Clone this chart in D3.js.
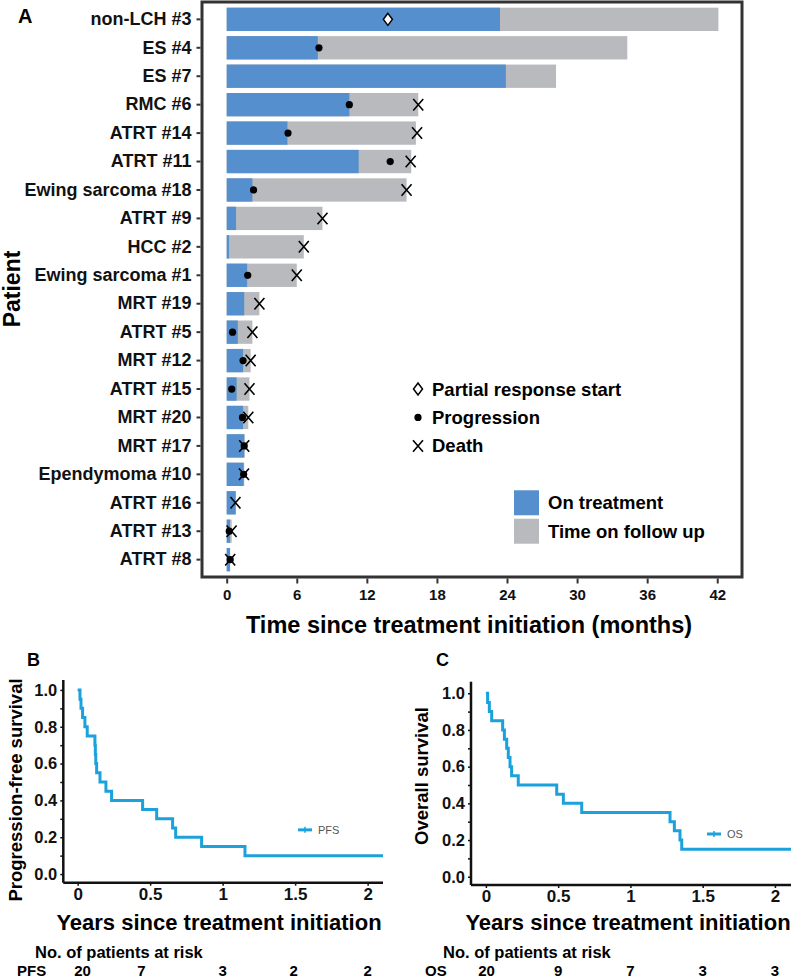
<!DOCTYPE html>
<html>
<head>
<meta charset="utf-8">
<script src="https://cdn.jsdelivr.net/npm/d3@7"></script>
<style>
  body { margin: 0; background: #fff; }
  svg { display: block; font-family: 'Liberation Sans', Arial, sans-serif; }
  .b { font-weight: bold; }
</style>
</head>
<body>
<div id="chart"></div>
<script>
// ---- Panel A: swimmer plot (months) ----
var patients = ['non-LCH #3', 'ES #4', 'ES #7', 'RMC #6', 'ATRT #14', 'ATRT #11',
  'Ewing sarcoma #18', 'ATRT #9', 'HCC #2', 'Ewing sarcoma #1', 'MRT #19', 'ATRT #5',
  'MRT #12', 'ATRT #15', 'MRT #20', 'MRT #17', 'Ependymoma #10', 'ATRT #16', 'ATRT #13', 'ATRT #8'];
var onTreatment = [23.4, 7.8, 23.9, 10.5, 5.2, 11.3, 2.2, 0.8, 0.2, 1.75, 1.5, 0.95,
  1.4, 0.85, 1.4, 1.5, 1.45, 0.77, 0.28, 0.28];
var totalTime = [42.1, 34.3, 28.2, 16.4, 16.2, 15.8, 15.4, 8.2, 6.6, 6.0, 2.8, 2.2,
  2.05, 1.95, 1.85, 1.55, 1.5, 0.77, 0.43, 0.3];
var partialResponse = [13.8, null, null, null, null, null, null, null, null, null, null, null,
  null, null, null, null, null, null, null, null];
var progression = [null, 7.9, null, 10.5, 5.25, 14.0, 2.3, null, null, 1.8, null, 0.5,
  1.4, 0.43, 1.35, 1.5, 1.45, null, 0.22, 0.3];
var death = [null, null, null, 16.4, 16.3, 15.75, 15.4, 8.2, 6.6, 6.0, 2.8, 2.2,
  2.05, 1.95, 1.85, 1.5, 1.48, 0.75, 0.42, 0.3];
var monthTicks = [0, 6, 12, 18, 24, 30, 36, 42];

// ---- Panels B/C: Kaplan-Meier (years) ----
var pfsTimes = [0, 0.016, 0.023, 0.034, 0.05, 0.066, 0.119, 0.122, 0.125, 0.131, 0.154,
  0.195, 0.234, 0.448, 0.545, 0.655, 0.676, 0.855, 1.154];
var pfsSurv = [1, 0.95, 0.9, 0.85, 0.8, 0.75, 0.7, 0.65, 0.6, 0.55, 0.5,
  0.45, 0.4, 0.35, 0.3, 0.25, 0.2, 0.15, 0.1];
var osTimes = [0, 0.012, 0.024, 0.04, 0.116, 0.128, 0.144, 0.155, 0.167, 0.178, 0.224,
  0.49, 0.536, 0.663, 1.274, 1.304, 1.343, 1.355];
var osSurv = [1, 0.95, 0.9, 0.85, 0.8, 0.75, 0.7, 0.65, 0.6, 0.55, 0.5,
  0.45, 0.4, 0.35, 0.3, 0.25, 0.2, 0.15];
var yearTicks = [0, 0.5, 1, 1.5, 2];
var pfsRiskTimes = [0.034, 0.44, 1.0, 1.49, 2.0];
var pfsRisk = [20, 7, 3, 2, 2];
var osRiskTimes = [0.005, 0.5, 1.0, 1.5, 2.0];
var osRisk = [20, 9, 7, 3, 3];

var blue = '#558fcd';
var grey = '#b8babd';
var kmBlue = '#1ba1dc';

var svg = d3.select('#chart').append('svg')
  .attr('width', 791)
  .attr('height', 979);

// ===== Panel A =====
var frame = {left: 202, right: 742, top: 2, bottom: 577};
var x = d3.scaleLinear().domain([-2.115, 44.12]).range([frame.left, frame.right]);
var y = d3.scaleBand().domain(patients).range([frame.top, frame.bottom])
  .paddingInner(0.18).paddingOuter(0.2);

var a = svg.append('g');

// follow-up (grey) under treatment (blue)
a.selectAll('.fu').data(patients).enter().append('rect')
  .attr('x', x(0))
  .attr('y', function(d) { return y(d); })
  .attr('width', function(d, i) { return x(totalTime[i]) - x(0); })
  .attr('height', y.bandwidth())
  .attr('fill', grey);

a.selectAll('.tx').data(patients).enter().append('rect')
  .attr('x', x(0))
  .attr('y', function(d) { return y(d); })
  .attr('width', function(d, i) { return x(onTreatment[i]) - x(0); })
  .attr('height', y.bandwidth())
  .attr('fill', blue);

function mid(d) { return y(d) + y.bandwidth() / 2; }

// progression dots
a.selectAll('.prog').data(patients.filter(function(d, i) { return progression[i] != null; }))
  .enter().append('circle')
  .attr('cx', function(d) { return x(progression[patients.indexOf(d)]); })
  .attr('cy', mid)
  .attr('r', 3.6)
  .attr('fill', '#000');

// death crosses
function cross(sel, cx, cy, s) {
  sel.append('path')
    .attr('d', 'M' + (cx - s) + ',' + (cy - s * 1.15) + 'L' + (cx + s) + ',' + (cy + s * 1.15) +
      'M' + (cx - s) + ',' + (cy + s * 1.15) + 'L' + (cx + s) + ',' + (cy - s * 1.15))
    .attr('stroke', '#000')
    .attr('stroke-width', 1.6)
    .attr('fill', 'none');
}
patients.forEach(function(d, i) {
  if (death[i] != null) cross(a, x(death[i]), mid(d), 5);
});

// partial response diamonds
function diamond(sel, cx, cy) {
  sel.append('path')
    .attr('d', 'M' + cx + ',' + (cy - 6) + 'L' + (cx + 4.5) + ',' + cy + 'L' + cx + ',' + (cy + 6) +
      'L' + (cx - 4.5) + ',' + cy + 'Z')
    .attr('fill', '#fff')
    .attr('stroke', '#000')
    .attr('stroke-width', 1.5);
}
patients.forEach(function(d, i) {
  if (partialResponse[i] != null) diamond(a, x(partialResponse[i]), mid(d));
});

// frame
a.append('rect')
  .attr('x', frame.left).attr('y', frame.top)
  .attr('width', frame.right - frame.left).attr('height', frame.bottom - frame.top)
  .attr('fill', 'none').attr('stroke', '#333').attr('stroke-width', 3);

// axes
var yAxisA = a.append('g')
  .attr('transform', 'translate(' + (frame.left - 1.5) + ',0)')
  .call(d3.axisLeft(y).tickSize(4).tickPadding(5));
yAxisA.select('.domain').remove();
yAxisA.selectAll('line').attr('stroke', '#333').attr('stroke-width', 2);
yAxisA.selectAll('text').attr('class', 'b').attr('font-size', 18).attr('fill', '#111')
  .attr('font-family', null);

var xAxisA = a.append('g')
  .attr('transform', 'translate(0,' + (frame.bottom + 1.5) + ')')
  .call(d3.axisBottom(x).tickValues(monthTicks).tickSize(5).tickPadding(6));
xAxisA.select('.domain').remove();
xAxisA.selectAll('line').attr('stroke', '#333').attr('stroke-width', 2);
xAxisA.selectAll('text').attr('class', 'b').attr('font-size', 15).attr('fill', '#111')
  .attr('font-family', null);

a.append('text').attr('class', 'b')
  .attr('x', 469).attr('y', 633).attr('text-anchor', 'middle')
  .attr('font-size', 23.5).text('Time since treatment initiation (months)');

a.append('text').attr('class', 'b')
  .attr('transform', 'translate(19.5,289) rotate(-90)').attr('text-anchor', 'middle')
  .attr('font-size', 23).text('Patient');

a.append('text').attr('class', 'b')
  .attr('x', 18).attr('y', 23).attr('font-size', 20).text('A');

// legend A
var lg = a.append('g');
var ly = [mid('ATRT #15'), mid('MRT #20'), mid('MRT #17')];
diamond(lg, 418, ly[0]);
lg.append('circle').attr('cx', 418).attr('cy', ly[1]).attr('r', 3.6).attr('fill', '#000');
cross(lg, 418, ly[2], 5);
['Partial response start', 'Progression', 'Death'].forEach(function(t, i) {
  lg.append('text').attr('class', 'b')
    .attr('x', 432).attr('y', ly[i]).attr('dy', '0.35em')
    .attr('font-size', 18.5).text(t);
});
var boxY = [mid('ATRT #16'), mid('ATRT #13')];
[[blue, 'On treatment'], [grey, 'Time on follow up']].forEach(function(e, i) {
  lg.append('rect').attr('x', 514).attr('y', boxY[i] - 12.5)
    .attr('width', 25).attr('height', 25).attr('fill', e[0]);
  lg.append('text').attr('class', 'b')
    .attr('x', 548).attr('y', boxY[i]).attr('dy', '0.35em')
    .attr('font-size', 18.5).text(e[1]);
});

// ===== Panels B and C =====
function kmPanel(opt) {
  var g = svg.append('g');
  var kx = d3.scaleLinear().domain(opt.xDomain).range([opt.x0, opt.x1]);
  var ky = d3.scaleLinear().domain(opt.yDomain).range([opt.yBottom, opt.yTop]);

  var pts = opt.times.map(function(t, i) { return [t, opt.surv[i]]; });
  pts.push([opt.xDomain[1], opt.surv[opt.surv.length - 1]]);
  var line = d3.line()
    .x(function(d) { return kx(d[0]); })
    .y(function(d) { return ky(d[1]); })
    .curve(d3.curveStepAfter);
  g.append('path').datum(pts)
    .attr('d', line)
    .attr('fill', 'none')
    .attr('stroke', kmBlue)
    .attr('stroke-width', 3);

  // y axis with minor ticks every 0.1
  var ya = g.append('g').attr('transform', 'translate(' + opt.x0 + ',0)')
    .call(d3.axisLeft(ky).tickValues(d3.range(0, 1.01, 0.1)).tickSize(3).tickPadding(3)
      .tickFormat(function(d) {
        var r = Math.round(d * 10);
        return r % 2 === 0 ? d3.format('.1f')(d) : '';
      }));
  ya.select('.domain').attr('d', 'M0,' + opt.yTop + 'V' + opt.yBottom)
    .attr('stroke', '#111').attr('stroke-width', 2.5);
  ya.selectAll('line').attr('stroke', '#111').attr('stroke-width', 1.5);
  ya.selectAll('text').attr('class', 'b').attr('font-size', 16.5).attr('fill', '#111')
    .attr('font-family', null);

  var xa = g.append('g').attr('transform', 'translate(0,' + opt.yBottom + ')')
    .call(d3.axisBottom(kx).tickValues(yearTicks).tickSize(3).tickPadding(2)
      .tickFormat(d3.format('')));
  xa.select('.domain').attr('d', 'M' + opt.x0 + ',0H' + opt.x1)
    .attr('stroke', '#111').attr('stroke-width', 2.5);
  xa.selectAll('line').attr('stroke', '#111').attr('stroke-width', 1.5);
  xa.selectAll('text').attr('class', 'b').attr('font-size', 17).attr('fill', '#111')
    .attr('font-family', null);

  // legend
  var lx = kx(opt.legendAt[0]), lyy = ky(opt.legendAt[1]);
  g.append('line').attr('x1', lx).attr('x2', lx + 14).attr('y1', lyy).attr('y2', lyy)
    .attr('stroke', kmBlue).attr('stroke-width', 3);
  g.append('line').attr('x1', lx + 7).attr('x2', lx + 7).attr('y1', lyy - 3).attr('y2', lyy + 3)
    .attr('stroke', kmBlue).attr('stroke-width', 1.5);
  g.append('text').attr('x', lx + 20).attr('y', lyy).attr('dy', '0.35em')
    .attr('font-size', 11).attr('fill', '#555').text(opt.name);

  // titles
  g.append('text').attr('class', 'b')
    .attr('transform', 'translate(' + opt.yTitleX + ',' + opt.yTitleY + ') rotate(-90)')
    .attr('text-anchor', 'middle').attr('font-size', 18.5).text(opt.yTitle);
  g.append('text').attr('class', 'b')
    .attr('x', opt.xTitleX).attr('y', 930).attr('text-anchor', 'middle')
    .attr('font-size', 22).text('Years since treatment initiation');
  g.append('text').attr('class', 'b')
    .attr('x', opt.labelX).attr('y', 666).attr('font-size', 18).text(opt.label);

  // number at risk
  g.append('text').attr('class', 'b')
    .attr('x', opt.riskTitleX).attr('y', 958).attr('font-size', 16.5).text('No. of patients at risk');
  g.append('text').attr('class', 'b')
    .attr('x', opt.riskNameX).attr('y', 976).attr('font-size', 15).text(opt.name);
  g.selectAll('.risk').data(opt.risk).enter().append('text')
    .attr('class', 'b')
    .attr('x', function(d, i) { return kx(opt.riskTimes[i]); })
    .attr('y', 976).attr('text-anchor', 'middle').attr('font-size', 15)
    .text(function(d) { return d; });
}

kmPanel({
  name: 'PFS', label: 'B', labelX: 27,
  times: pfsTimes, surv: pfsSurv,
  xDomain: [-0.099, 2.106], x0: 63.3, x1: 383,
  yDomain: [-0.047, 1.054], yBottom: 882.7, yTop: 680,
  legendAt: [1.52, 0.24],
  yTitle: 'Progression-free survival', yTitleX: 21.5, yTitleY: 790,
  xTitleX: 219, riskTitleX: 35, riskNameX: 17,
  risk: pfsRisk, riskTimes: pfsRiskTimes
});

kmPanel({
  name: 'OS', label: 'C', labelX: 436,
  times: osTimes, surv: osSurv,
  xDomain: [-0.103, 2.111], x0: 471, x1: 791,
  yDomain: [-0.045, 1.063], yBottom: 885, yTop: 681.7,
  legendAt: [1.53, 0.233],
  yTitle: 'Overall survival', yTitleX: 428, yTitleY: 776,
  xTitleX: 628, riskTitleX: 443, riskNameX: 425,
  risk: osRisk, riskTimes: osRiskTimes
});
</script>
</body>
</html>
